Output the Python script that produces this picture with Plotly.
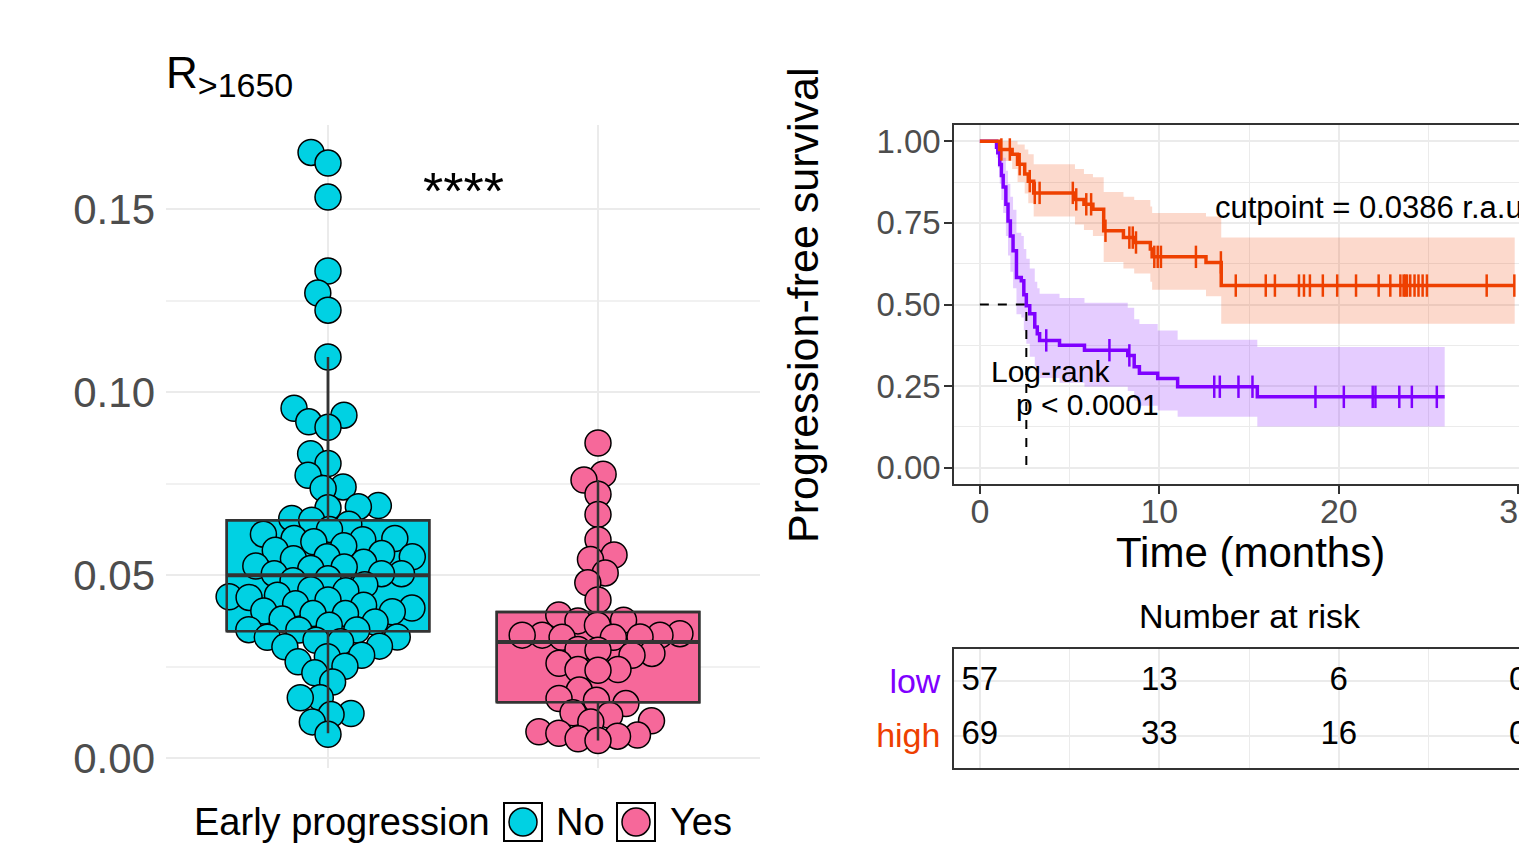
import math
import numpy as np
import plotly.graph_objects as go

W, H = 1519, 846
FONT = "Liberation Sans, Arial, Helvetica, sans-serif"

# ---------------- data: left panel (R>1650 by early progression) ----------------
groups = ["No", "Yes"]
group_colors = ["#00D1E3", "#F6689A"]

values_no = [0.1655, 0.1626, 0.1533, 0.1331, 0.1271, 0.1224, 0.1096, 0.0956, 0.0937, 0.0919,
             0.0904, 0.0832, 0.0805, 0.0773, 0.0741, 0.0737, 0.0690, 0.0687, 0.0684, 0.0655,
             0.0650, 0.0639, 0.0625, 0.0612, 0.0600, 0.0600, 0.0597, 0.0591, 0.0580, 0.0568,
             0.0559, 0.0550, 0.0550, 0.0545, 0.0535, 0.0525, 0.0522, 0.0518, 0.0504, 0.0504,
             0.0504, 0.0490, 0.0485, 0.0474, 0.0460, 0.0457, 0.0445, 0.0441, 0.0439, 0.0432,
             0.0422, 0.0418, 0.0410, 0.0402, 0.0400, 0.0395, 0.0395, 0.0380, 0.0372, 0.0363,
             0.0351, 0.0350, 0.0350, 0.0331, 0.0330, 0.0322, 0.0318, 0.0306, 0.0304, 0.0281,
             0.0277, 0.0263, 0.0251, 0.0233, 0.0208, 0.0165, 0.0165, 0.0122, 0.0119, 0.0099,
             0.0065]
values_yes = [0.0861, 0.0776, 0.0760, 0.0721, 0.0666, 0.0597, 0.0555, 0.0543, 0.0506, 0.0479,
              0.0432, 0.0391, 0.0377, 0.0375, 0.0363, 0.0340, 0.0336, 0.0336, 0.0336, 0.0331,
              0.0330, 0.0330, 0.0297, 0.0295, 0.0286, 0.0281, 0.0259, 0.0242, 0.0242, 0.0240,
              0.0186, 0.0163, 0.0158, 0.0149, 0.0124, 0.0117, 0.0102, 0.0099, 0.0072, 0.0068,
              0.0063, 0.0060, 0.0053, 0.0048]

# box statistics
box_q1 = [0.0347, 0.0153]
box_median = [0.0500, 0.0317]
box_q3 = [0.0650, 0.0399]
box_lower = [0.0068, 0.0048]
box_upper = [0.1096, 0.0760]

# ---------------- data: Kaplan-Meier ----------------
high_time = [0, 1.1, 1.8, 2.1, 2.5, 2.7, 3.0, 5.3, 5.8, 6.3, 6.9, 8.0, 8.6, 9.5, 9.6, 12.6, 13.45]
high_surv = [1.0, 0.975, 0.96, 0.93, 0.90, 0.878, 0.842, 0.822, 0.807, 0.792, 0.726, 0.705, 0.69, 0.67, 0.646, 0.629, 0.558]
high_lower = [1.0, 0.94, 0.915, 0.875, 0.84, 0.81, 0.77, 0.745, 0.728, 0.71, 0.63, 0.61, 0.595, 0.57, 0.545, 0.525, 0.441]
high_upper = [1.0, 1.0, 1.0, 0.99, 0.975, 0.96, 0.93, 0.915, 0.90, 0.89, 0.845, 0.83, 0.82, 0.80, 0.78, 0.77, 0.705]
high_end = 29.8
high_censor = [1.2, 1.67, 2.22, 2.78, 3.06, 3.33, 5.18, 5.37, 5.93, 6.2, 7.0, 8.33, 8.52, 8.7, 9.72, 9.91,
               10.09, 12.04, 13.43, 14.26, 15.93, 16.44, 17.78, 18.06, 18.39, 19.11, 19.91, 20.96, 22.22,
               22.87, 23.43, 23.61, 23.7, 23.8, 23.98, 24.22, 24.44, 24.67, 24.91, 28.24, 29.78]

low_time = [0, 0.93, 1.0, 1.11, 1.2, 1.3, 1.45, 1.57, 1.7, 1.85, 2.04, 2.31, 2.45, 2.59, 2.78, 3.06, 3.2,
            3.33, 4.44, 5.83, 8.24, 8.6, 8.89, 9.91, 11.02, 15.46]
low_surv = [1.0, 0.982, 0.965, 0.929, 0.895, 0.86, 0.807, 0.756, 0.71, 0.665, 0.583, 0.573, 0.53, 0.496,
            0.472, 0.431, 0.41, 0.39, 0.375, 0.36, 0.344, 0.309, 0.289, 0.273, 0.248, 0.217]
low_lower = [1.0, 0.95, 0.92, 0.87, 0.82, 0.78, 0.71, 0.65, 0.60, 0.55, 0.47, 0.46, 0.42, 0.38, 0.34,
             0.31, 0.29, 0.275, 0.26, 0.248, 0.235, 0.205, 0.19, 0.175, 0.156, 0.126]
low_upper = [1.0, 1.0, 1.0, 0.99, 0.97, 0.95, 0.91, 0.87, 0.83, 0.79, 0.72, 0.71, 0.67, 0.64, 0.61, 0.57,
             0.55, 0.533, 0.52, 0.505, 0.49, 0.455, 0.44, 0.42, 0.392, 0.37]
low_end = 25.9
low_censor = [3.7, 7.22, 8.33, 13.06, 13.37, 14.41, 15.19, 18.7, 20.28, 21.89, 22.04, 23.37, 24.07, 25.46]

strata = ["low", "high"]
strata_colors = ["#7F00FF", "#EE4000"]
risk_times = [0, 10, 20, 30]
risk_low = [57, 13, 6, 0]
risk_high = [69, 33, 16, 0]


def xp(px):
    return px / W


def yp(py):
    return 1 - py / H


def rgba(hexcol, a):
    h = hexcol.lstrip("#")
    return "rgba(%d,%d,%d,%s)" % (int(h[0:2], 16), int(h[2:4], 16), int(h[4:6], 16), a)


# pixel scales of left panel (used only for the swarm layout)
X_PX_PER_UNIT = 270.0
Y_PX_PER_UNIT = 3660.0


def swarm(vals, d):
    ys = np.array(vals) * Y_PX_PER_UNIT
    order = np.argsort(ys)
    placed = []
    xs = np.zeros(len(vals))
    for i in order:
        y = ys[i]
        cands = [0.0]
        for (px_, py_) in placed:
            dy = abs(y - py_)
            if dy < d:
                dx = math.sqrt(d * d - dy * dy)
                cands += [px_ + dx, px_ - dx]
        cands.sort(key=lambda c: (abs(c), c))
        for c in cands:
            if all((c - px_) ** 2 + (y - py_) ** 2 >= d * d - 1e-6 for px_, py_ in placed):
                xs[i] = c
                break
        placed.append((xs[i], y))
    return xs / X_PX_PER_UNIT


def step_at(times, vals, t):
    idx = 0
    for i, tt in enumerate(times):
        if tt <= t:
            idx = i
    return vals[idx]


fig = go.Figure()

# ---------------- left panel ----------------
all_vals = [values_no, values_yes]
for gi, g in enumerate(groups):
    c = gi + 1
    fig.add_trace(go.Box(
        x=[c], q1=[box_q1[gi]], median=[box_median[gi]], q3=[box_q3[gi]],
        lowerfence=[box_lower[gi]], upperfence=[box_upper[gi]], width=0.75, whiskerwidth=0,
        fillcolor=group_colors[gi], line=dict(color="#333333", width=2.5),
        boxpoints=False, showlegend=False, hoverinfo="skip", xaxis="x", yaxis="y"))

for gi, g in enumerate(groups):
    c = gi + 1
    offs = swarm(all_vals[gi], 20.0)
    fig.add_trace(go.Scatter(
        x=c + offs, y=all_vals[gi], mode="markers", name=g, showlegend=False,
        marker=dict(size=26, color=group_colors[gi], line=dict(color="black", width=1.5)),
        xaxis="x", yaxis="y"))

for gi, g in enumerate(groups):
    c = gi + 1
    hw = 0.375
    q1, md, q3, lo, up = box_q1[gi], box_median[gi], box_q3[gi], box_lower[gi], box_upper[gi]
    fig.add_trace(go.Scatter(
        x=[c, c, None, c, c, None, c - hw, c + hw, c + hw, c - hw, c - hw],
        y=[q3, up, None, q1, lo, None, q1, q1, q3, q3, q1],
        mode="lines", line=dict(color="#333333", width=2.5), showlegend=False,
        hoverinfo="skip", xaxis="x", yaxis="y"))
    fig.add_trace(go.Scatter(
        x=[c - hw, c + hw], y=[md, md], mode="lines",
        line=dict(color="#333333", width=4), showlegend=False, hoverinfo="skip",
        xaxis="x", yaxis="y"))

# ---------------- KM panel ----------------
km = {
    "low": (low_time, low_surv, low_lower, low_upper, low_end, low_censor),
    "high": (high_time, high_surv, high_lower, high_upper, high_end, high_censor),
}
for si, s in enumerate(strata):
    t, sv, lo, up, end, cens = km[s]
    col = strata_colors[si]
    tx = list(t) + [end]
    fig.add_trace(go.Scatter(x=tx, y=list(lo) + [lo[-1]], mode="lines", line=dict(width=0, shape="hv"),
                             showlegend=False, hoverinfo="skip", xaxis="x2", yaxis="y2"))
    fig.add_trace(go.Scatter(x=tx, y=list(up) + [up[-1]], mode="lines", line=dict(width=0, shape="hv"),
                             fill="tonexty", fillcolor=rgba(col, 0.2), showlegend=False,
                             hoverinfo="skip", xaxis="x2", yaxis="y2"))

# median survival line (low group)
med_t = None
for tt, vv in zip(low_time, low_surv):
    if vv <= 0.5:
        med_t = tt
        break
fig.add_trace(go.Scatter(x=[0, med_t, med_t], y=[0.5, 0.5, 0], mode="lines",
                         line=dict(color="black", width=2, dash="dash"), showlegend=False,
                         hoverinfo="skip", xaxis="x2", yaxis="y2"))

for si, s in enumerate(strata):
    t, sv, lo, up, end, cens = km[s]
    col = strata_colors[si]
    fig.add_trace(go.Scatter(x=list(t) + [end], y=list(sv) + [sv[-1]], mode="lines",
                             line=dict(color=col, width=3.5, shape="hv"), name=s,
                             showlegend=False, xaxis="x2", yaxis="y2"))
    fig.add_trace(go.Scatter(x=cens, y=[step_at(t, sv, c) for c in cens], mode="markers",
                             marker=dict(symbol="line-ns", size=16, color=col,
                                         line=dict(color=col, width=2.5)),
                             showlegend=False, xaxis="x2", yaxis="y2"))

# ---------------- risk table ----------------
fig.add_trace(go.Scatter(
    x=risk_times + risk_times, y=[1] * len(risk_times) + [2] * len(risk_times),
    text=[str(v) for v in risk_low + risk_high], mode="text",
    textfont=dict(size=33, color="black", family=FONT), textposition="middle center",
    showlegend=False, hoverinfo="skip", xaxis="x3", yaxis="y3"))

GRID = "#EBEBEB"
axis_common = dict(zeroline=False, automargin=False)
XR = [-1.44, 30.04]

fig.update_layout(
    width=W, height=H, margin=dict(l=0, r=0, t=0, b=0),
    paper_bgcolor="white", plot_bgcolor="white",
    font=dict(family=FONT, color="black"),
    showlegend=False,
    xaxis=dict(domain=[xp(166), xp(760)], range=[0.4, 2.6], tickvals=[1, 2], showticklabels=False,
               ticks="", showgrid=True, gridcolor=GRID, gridwidth=2, anchor="y", **axis_common),
    yaxis=dict(domain=[yp(768), yp(125)], range=[-0.0027, 0.173], tickvals=[0, 0.05, 0.10, 0.15],
               ticktext=["0.00", "0.05", "0.10", "0.15"], tickfont=dict(size=42, color="#4D4D4D"),
               ticks="", showgrid=True, gridcolor=GRID, gridwidth=2, ticklabelstandoff=10,
               minor=dict(tickvals=[0.025, 0.075, 0.125], showgrid=True, gridcolor="#F1F1F1", gridwidth=1.5),
               anchor="x", **axis_common),
    xaxis2=dict(domain=[xp(954), 1.0], range=XR, tickvals=[0, 10, 20, 30],
                ticks="outside", ticklen=8, tickwidth=1.5, tickcolor="#333333",
                tickfont=dict(size=34, color="#4D4D4D"), showgrid=True, gridcolor=GRID, gridwidth=1.5,
                ticklabelstandoff=-12, ticklabeloverflow="allow",
                minor=dict(tickvals=[5, 15, 25], showgrid=True, gridcolor=GRID, gridwidth=1),
                showline=True, linecolor="#333333", linewidth=1.5, mirror=True, anchor="y2", **axis_common),
    yaxis2=dict(domain=[yp(484), yp(125)], range=[-0.05, 1.05], tickvals=[0, 0.25, 0.5, 0.75, 1.0],
                ticktext=["0.00", "0.25", "0.50", "0.75", "1.00"], ticks="outside", ticklen=8,
                tickwidth=1.5, tickcolor="#333333", tickfont=dict(size=33, color="#4D4D4D"),
                showgrid=True, gridcolor=GRID, gridwidth=1.5, ticklabelstandoff=-3,
                minor=dict(tickvals=[0.125, 0.375, 0.625, 0.875], showgrid=True, gridcolor=GRID, gridwidth=1),
                showline=True, linecolor="#333333", linewidth=1.5, anchor="x2", **axis_common),
    xaxis3=dict(domain=[xp(954), 1.0], range=XR, tickvals=[0, 10, 20, 30], showticklabels=False,
                ticks="", showgrid=True, gridcolor=GRID, gridwidth=1.5,
                minor=dict(tickvals=[5, 15, 25], showgrid=True, gridcolor=GRID, gridwidth=1),
                showline=True, linecolor="#333333", linewidth=1.5, mirror=True, anchor="y3", **axis_common),
    yaxis3=dict(domain=[yp(768), yp(649)], range=[2.6, 0.4], tickvals=[1, 2],
                ticktext=["<span style='color:%s'>%s</span>" % (strata_colors[i], s) for i, s in enumerate(strata)],
                tickfont=dict(size=34), ticks="", showgrid=True, gridcolor=GRID, gridwidth=1.5,
                ticklabelstandoff=5, showline=True, linecolor="#333333", linewidth=1.5,
                anchor="x3", **axis_common),
)

ann = []
ann.append(dict(text="R<sub><span style='font-size:34px'>&gt;1650</span></sub>", x=xp(164), y=yp(76),
                xref="paper", yref="paper", xanchor="left", yanchor="middle", showarrow=False,
                font=dict(size=44, color="black")))
ann.append(dict(text="****", x=1.5, y=0.155, xref="x", yref="y", xanchor="center", yanchor="middle",
                showarrow=False, font=dict(size=52, color="black")))
ann.append(dict(text="Progression-free survival", x=xp(803), y=yp(305), xref="paper", yref="paper",
                textangle=-90, xanchor="center", yanchor="middle", showarrow=False,
                font=dict(size=43, color="black")))
ann.append(dict(text="Time (months)", x=xp(1250), y=yp(552), xref="paper", yref="paper",
                xanchor="center", yanchor="middle", showarrow=False, font=dict(size=42, color="black")))
ann.append(dict(text="Number at risk", x=xp(1250), y=yp(616), xref="paper", yref="paper",
                xanchor="center", yanchor="middle", showarrow=False, font=dict(size=34, color="black")))
ann.append(dict(text="cutpoint = 0.0386 r.a.u.", x=13.0, y=0.796, xref="x2", yref="y2",
                xanchor="left", yanchor="middle", showarrow=False, font=dict(size=31, color="black")))
ann.append(dict(text="Log-rank", x=0.5, y=0.296, xref="x2", yref="y2",
                xanchor="left", yanchor="middle", showarrow=False, font=dict(size=30, color="black")))
ann.append(dict(text="p &lt; 0.0001", x=1.9, y=0.195, xref="x2", yref="y2",
                xanchor="left", yanchor="middle", showarrow=False, font=dict(size=30, color="black")))

# legend (manual keys)
ann.append(dict(text="Early progression", x=xp(192), y=yp(822), xref="paper", yref="paper",
                xanchor="left", yanchor="middle", showarrow=False, font=dict(size=38, color="black")))
legend_keys = [(504, 556), (617, 670)]
shapes = []
for gi, g in enumerate(groups):
    bx, tx_ = legend_keys[gi]
    shapes.append(dict(type="rect", xref="paper", yref="paper", x0=xp(bx), x1=xp(bx + 38),
                       y0=yp(841), y1=yp(803), line=dict(color="black", width=2), fillcolor="white"))
    shapes.append(dict(type="circle", xref="paper", yref="paper", x0=xp(bx + 5), x1=xp(bx + 33),
                       y0=yp(836), y1=yp(808), line=dict(color="black", width=1.5),
                       fillcolor=group_colors[gi]))
    ann.append(dict(text=g, x=xp(tx_ - 2), y=yp(822), xref="paper", yref="paper",
                    xanchor="left", yanchor="middle", showarrow=False, font=dict(size=38, color="black")))

fig.update_layout(annotations=ann, shapes=shapes)
fig.write_html("out.html", config={"displayModeBar": False},
               post_script="document.body.style.margin='0px';document.body.style.overflow='hidden';")
